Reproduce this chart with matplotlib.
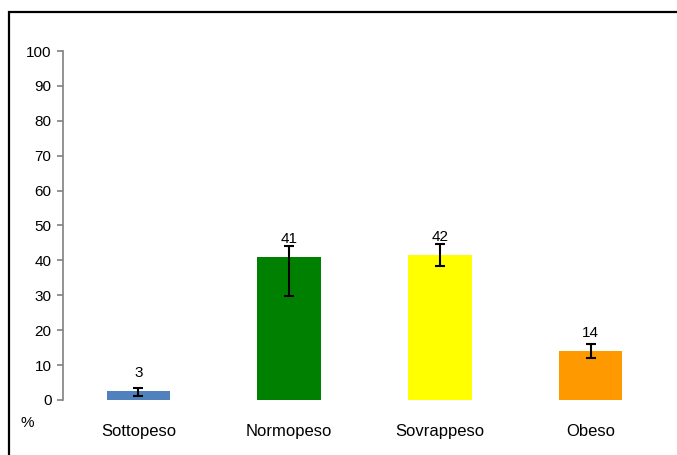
import matplotlib.pyplot as plt
from matplotlib.patches import Rectangle

plt.rcParams["font.family"] = ["Liberation Sans", "DejaVu Sans"]

categories = ["Sottopeso", "Normopeso", "Sovrappeso", "Obeso"]
values = [2.6, 41.0, 41.6, 14.0]
err_low = [1.2, 29.8, 38.5, 12.1]
err_high = [3.5, 44.2, 44.8, 16.1]
labels = ["3", "41", "42", "14"]
colors = ["#4F81BD", "#008000", "#FFFF00", "#FF9900"]

fig = plt.figure(figsize=(6.77, 4.55), dpi=100)
ax = fig.add_axes([0.0931, 0.1209, 0.8907, 0.767])

x = range(len(categories))
ax.bar(x, values, width=0.42, color=colors, zorder=2)
yerr = [[v - lo for v, lo in zip(values, err_low)],
        [hi - v for v, hi in zip(values, err_high)]]
ax.errorbar(x, values, yerr=yerr, fmt="none", ecolor="black",
            elinewidth=1.5, capsize=3.6, capthick=1.5, zorder=3)

for xi, v, lab in zip(x, values, labels):
    ax.annotate(lab, (xi, v), xytext=(0, 10), textcoords="offset points",
                ha="center", va="baseline", fontsize=11)

ax.set_xlim(-0.5, 3.5)
ax.set_ylim(0, 100)
ax.set_yticks(range(0, 101, 10))
ax.set_xticks(list(x))
ax.set_xticklabels(categories, fontsize=12)
ax.tick_params(axis="x", length=0, pad=17)
ax.tick_params(axis="y", length=4.3, width=1.2, color="#808080",
               labelsize=11, pad=4)

for side in ["top", "right", "bottom"]:
    ax.spines[side].set_visible(False)
ax.spines["left"].set_color("#808080")
ax.spines["left"].set_linewidth(1.2)

fig.text(27 / 677, 1 - 423 / 455, "%", fontsize=11, ha="center", va="center")

fig.patches.append(Rectangle((8.5 / 677, -0.1), 1.2, 0.1 + 1 - 12 / 455,
                             transform=fig.transFigure, fill=False,
                             edgecolor="black", linewidth=1.6, clip_on=False))

fig.savefig("out.png", dpi=100)
